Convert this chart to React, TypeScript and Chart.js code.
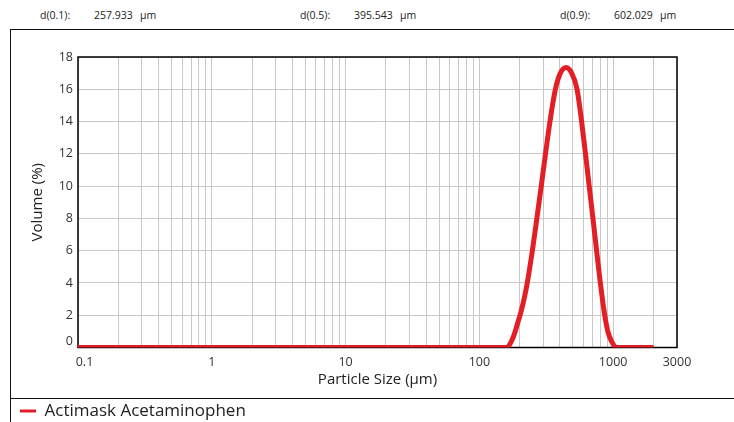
import React, { useEffect, useRef } from 'react';
import { Chart, registerables } from 'chart.js';

Chart.register(...registerables);

// ---- data ----
const seriesName = 'Actimask Acetaminophen';
const particleSizes = [0.1, 1, 10, 100, 150, 160, 166, 174, 182, 190, 198, 206, 217, 228, 249, 269, 290, 312, 337, 370, 403, 445, 490, 537, 581, 621, 662, 706, 752, 802, 865, 912, 959, 1000, 1047, 2000];
const volumePct = [0, 0, 0, 0, 0, 0, 0.1, 0.4, 0.8, 1.3, 1.8, 2.3, 3.1, 4, 6, 8, 10, 12, 14, 16, 17.0, 17.35, 17.0, 16, 14, 12, 10, 8, 6, 4, 2, 1, 0.5, 0.2, 0, 0];

const xLabelValues = [0.1, 1, 10, 100, 1000, 3000];
const xGridDecades = [0.1, 1, 10, 100, 1000];
const xGridMultipliers = [1, 2, 3, 4, 5, 6, 7, 8, 9];
const xMin = 0.1;
const xMax = 3000;
const yMin = 0;
const yMax = 18;
const yStep = 2;

const headerLabels = ['d(0.1):', 'd(0.5):', 'd(0.9):'];
const headerValues = ['257.933', '395.543', '602.029'];
const headerUnit = 'µm';

const xTitle = 'Particle Size (µm)';
const yTitle = 'Volume (%)';

const FONT = "'Open Sans', 'DejaVu Sans', sans-serif";
const lineColor = '#e31e24';
const gridColor = '#c8c8c8';

const framePlugin = {
  id: 'plotFrame',
  beforeDatasetsDraw(chart: any) {
    const { ctx, chartArea } = chart;
    const { left, top, right, bottom } = chartArea;
    ctx.save();
    ctx.strokeStyle = '#000';
    ctx.lineWidth = 1.5;
    ctx.strokeRect(left, top, right - left, bottom - top);
    ctx.restore();
  },
};

export default function App() {
  const canvasRef = useRef<HTMLCanvasElement | null>(null);

  useEffect(() => {
    document.body.style.margin = '0';
    document.body.style.overflow = 'hidden';
    const canvas = canvasRef.current;
    if (!canvas) return;

    const gridValues: number[] = [];
    xGridDecades.forEach((d) =>
      xGridMultipliers.forEach((m) => {
        const v = d * m;
        if (v <= xMax * (1 + 1e-9)) gridValues.push(v);
      })
    );

    const isLabel = (v: number) => xLabelValues.find((l) => Math.abs(l - v) / l < 1e-6);

    const chart = new Chart(canvas, {
      type: 'line',
      data: {
        datasets: [
          {
            label: seriesName,
            data: particleSizes.map((x, i) => ({ x, y: volumePct[i] })),
            borderColor: lineColor,
            backgroundColor: lineColor,
            borderWidth: 5,
            pointRadius: 0,
            fill: false,
            cubicInterpolationMode: 'monotone',
          },
        ],
      },
      options: {
        responsive: false,
        animation: false,
        layout: { padding: { left: 10, right: 57, top: 57, bottom: 10.5 } },
        scales: {
          x: {
            type: 'logarithmic',
            min: xMin,
            max: xMax,
            afterBuildTicks: (scale: any) => {
              scale.ticks = gridValues.map((v) => ({ value: v }));
            },
            afterFit: (scale: any) => {
              scale.height = 45;
            },
            grid: { color: gridColor, lineWidth: 1, drawTicks: false },
            border: { display: false },
            ticks: {
              autoSkip: false,
              maxRotation: 0,
              minRotation: 0,
              padding: 7,
              color: '#333',
              font: { family: FONT, size: 12.5 },
              callback: (value: any) => {
                const l = isLabel(Number(value));
                if (l === undefined) return '';
                return l === 0.1 ? '    0.1' : String(l);
              },
            },
            title: {
              display: true,
              text: xTitle,
              color: '#222',
              font: { family: FONT, size: 15 },
              padding: { top: 4, bottom: 3.5 },
            },
          },
          y: {
            type: 'linear',
            min: yMin,
            max: yMax,
            afterFit: (scale: any) => {
              scale.width = 68;
            },
            grid: { color: gridColor, lineWidth: 1, drawTicks: false },
            border: { display: false },
            ticks: {
              stepSize: yStep,
              padding: 5,
              color: '#333',
              font: (ctx: any) => ({
                family: FONT,
                size: 12.5,
                lineHeight: ctx.tick && ctx.tick.value === 0 ? 0.95 : 1.2,
              }),
              callback: (value: any) => (Number(value) === 0 ? ['0', ''] : String(value)),
            },
            title: {
              display: true,
              text: yTitle,
              color: '#222',
              font: { family: FONT, size: 15 },
              padding: { top: 18.6, bottom: 4 },
            },
          },
        },
        plugins: {
          legend: {
            position: 'bottom',
            align: 'start',
            labels: {
              boxWidth: 16,
              boxHeight: 3,
              padding: 10,
              color: '#222',
              font: { family: FONT, size: 17 },
              generateLabels: () => [
                {
                  text: seriesName,
                  fillStyle: lineColor,
                  strokeStyle: lineColor,
                  lineWidth: 0,
                  hidden: false,
                  datasetIndex: 0,
                  fontColor: '#222',
                },
              ],
            },
          },
          tooltip: { enabled: false },
        },
      },
      plugins: [framePlugin],
    } as any);

    return () => chart.destroy();
  }, []);

  const headerStyle: React.CSSProperties = {
    position: 'absolute',
    top: 8,
    fontFamily: FONT,
    fontSize: 10.5,
    color: '#222',
    whiteSpace: 'nowrap',
    lineHeight: '14px',
  };
  const groupX = [40, 300, 560];

  return (
    <div style={{ position: 'relative', width: 734, height: 422, overflow: 'hidden', background: '#fff' }}>
      {headerLabels.map((lab, i) => (
        <React.Fragment key={lab}>
          <span style={{ ...headerStyle, left: groupX[i] }}>{lab}</span>
          <span style={{ ...headerStyle, left: groupX[i] + 54 }}>{headerValues[i]}</span>
          <span style={{ ...headerStyle, left: groupX[i] + 100 }}>{headerUnit}</span>
        </React.Fragment>
      ))}
      <div
        style={{
          position: 'absolute',
          left: 10,
          top: 29,
          width: 724,
          height: 393,
          borderTop: '1px solid #111',
          borderLeft: '1px solid #111',
          boxSizing: 'border-box',
        }}
      />
      <div style={{ position: 'absolute', left: 10, top: 398, width: 724, height: 1, background: '#111' }} />
      <canvas
        ref={canvasRef}
        width={734}
        height={440}
        style={{ position: 'absolute', left: 0, top: 0, width: 734, height: 440 }}
      />
    </div>
  );
}
